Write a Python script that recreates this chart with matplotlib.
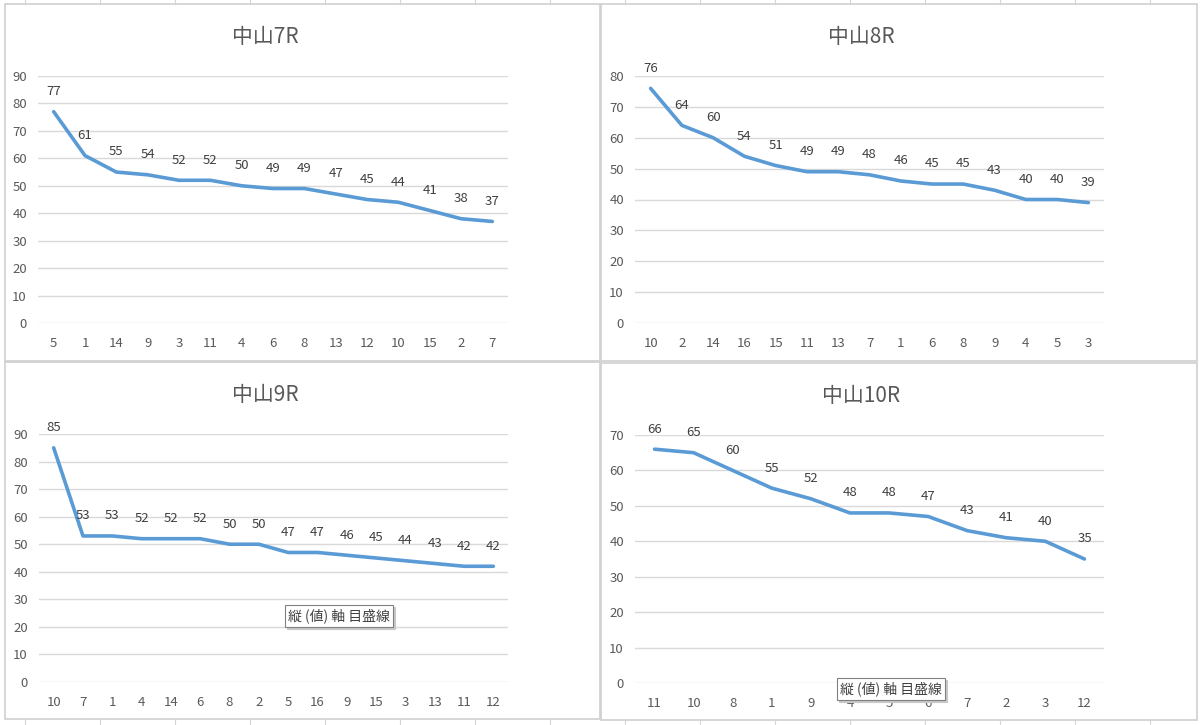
import matplotlib.pyplot as plt
from matplotlib.patches import Rectangle

plt.rcParams['font.family'] = ['Noto Sans CJK JP', 'DejaVu Sans']

# data
titles = ["中山7R", "中山8R", "中山9R", "中山10R"]

horses_7r = ["5", "1", "14", "9", "3", "11", "4", "6", "8", "13", "12", "10", "15", "2", "7"]
score_7r = [77, 61, 55, 54, 52, 52, 50, 49, 49, 47, 45, 44, 41, 38, 37]

horses_8r = ["10", "2", "14", "16", "15", "11", "13", "7", "1", "6", "8", "9", "4", "5", "3"]
score_8r = [76, 64, 60, 54, 51, 49, 49, 48, 46, 45, 45, 43, 40, 40, 39]

horses_9r = ["10", "7", "1", "4", "14", "6", "8", "2", "5", "16", "9", "15", "3", "13", "11", "12"]
score_9r = [85, 53, 53, 52, 52, 52, 50, 50, 47, 47, 46, 45, 44, 43, 42, 42]

horses_10r = ["11", "10", "8", "1", "9", "4", "5", "6", "7", "2", "3", "12"]
score_10r = [66, 65, 60, 55, 52, 48, 48, 47, 43, 41, 40, 35]

y_max = [90, 80, 90, 70]

W, H = 1200, 725
fig = plt.figure(figsize=(W / 100, H / 100), dpi=100)
fig.patch.set_facecolor("white")

def px(x0, y0, x1, y1):
    # pixel box (top-left origin) -> figure fraction [l, b, w, h]
    return [x0 / W, 1 - y1 / H, (x1 - x0) / W, (y1 - y0) / H]

# worksheet cell lines peeking out between the charts
for x in range(25, W, 75):
    fig.add_artist(plt.Line2D([x / W, x / W], [1, 1 - 4 / H], color="#d4d4d4", lw=0.8))
    fig.add_artist(plt.Line2D([x / W, x / W], [0, 5 / H], color="#d4d4d4", lw=0.8))

# chart area frames
frames = [(5, 4, 600, 361), (601, 4, 1197, 361), (5, 362, 600, 719), (601, 363, 1197, 720)]
for x0, y0, x1, y1 in frames:
    fig.add_artist(Rectangle((x0 / W, 1 - y1 / H), (x1 - x0) / W, (y1 - y0) / H,
                             transform=fig.transFigure, facecolor="white",
                             edgecolor="#d0d0d0", lw=1.2, zorder=0))

plot_boxes = [(38, 76, 508, 323), (635, 76, 1104, 323), (39, 434, 508, 682), (635, 435, 1104, 683)]
title_pos = [(265, 37), (861, 37), (265, 395), (861, 396)]

series = [(horses_7r, score_7r), (horses_8r, score_8r),
          (horses_9r, score_9r), (horses_10r, score_10r)]

for i, (cats, vals) in enumerate(series):
    ax = fig.add_axes(px(*plot_boxes[i]))
    ax.set_facecolor("none")
    xs = list(range(len(cats)))
    ax.plot(xs, vals, color="#5b9bd5", lw=2.6, solid_capstyle="round",
            solid_joinstyle="round", zorder=3)
    for x, v in zip(xs, vals):
        ax.annotate(str(v), (x, v), xytext=(0, 14.5), textcoords="offset points",
                    ha="center", va="center", fontsize=9.5, color="#404040", zorder=4)
    ax.set_xlim(-0.5, len(cats) - 0.5)
    ax.set_ylim(0, y_max[i])
    ax.set_yticks(range(0, y_max[i] + 1, 10))
    ax.set_xticks(xs)
    ax.set_xticklabels(cats)
    ax.grid(axis="y", color="#d9d9d9", lw=1.0)
    ax.set_axisbelow(True)
    for s in ax.spines.values():
        s.set_visible(False)
    ax.tick_params(axis="both", length=0, labelsize=9.5, labelcolor="#595959")
    ax.tick_params(axis="y", pad=8)
    ax.tick_params(axis="x", pad=10)
    tx, ty = title_pos[i]
    fig.text(tx / W, 1 - ty / H, titles[i], ha="center", va="center",
             fontsize=15, color="#595959")

# hover tooltips shown in the screenshot
for cx, cy in [(339, 616), (891, 689)]:
    fig.text((cx + 2) / W, 1 - (cy + 2) / H, "縦 (値) 軸 目盛線", ha="center", va="center",
             fontsize=10, color="#c8c8c8", zorder=9,
             bbox=dict(boxstyle="square,pad=0.25", facecolor="#c8c8c8",
                       edgecolor="#c8c8c8", lw=0.8))
    fig.text(cx / W, 1 - cy / H, "縦 (値) 軸 目盛線", ha="center", va="center",
             fontsize=10, color="#404040", zorder=10,
             bbox=dict(boxstyle="square,pad=0.25", facecolor="white",
                       edgecolor="#808080", lw=0.8))

fig.savefig("out.png", dpi=100)
